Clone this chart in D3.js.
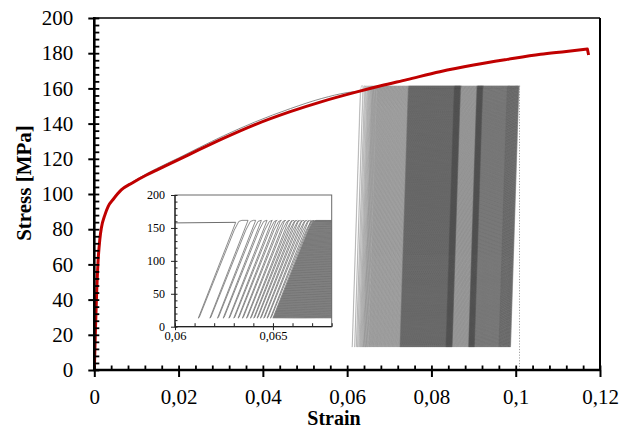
<!DOCTYPE html>
<html><head><meta charset="utf-8">
<script src="https://cdn.jsdelivr.net/npm/d3@7"></script>
<style>
html,body{margin:0;padding:0;background:#fff;}
svg{display:block;}
</style></head><body>
<svg id="chart" width="630" height="430"></svg>
<script>
// ---------------- DATA ----------------
// Monotonic tensile test (red)
const redStrain = [0, 0.0001, 0.0003, 0.0005, 0.0009, 0.0013, 0.0017, 0.0025, 0.0033, 0.0045, 0.0064, 0.009, 0.0124, 0.0148, 0.02, 0.025, 0.0306, 0.038, 0.0465, 0.054, 0.0623, 0.068, 0.0742, 0.082, 0.09, 0.098, 0.1059, 0.112, 0.117, 0.1173];
const redStress = [0, 8, 25, 40, 62, 74, 81, 88, 93, 97, 102.3, 106.3, 110.8, 113.6, 119.5, 125.3, 131.6, 139.3, 146.8, 152.5, 158, 161.5, 165, 169.5, 173.3, 176.5, 179.4, 181, 182.4, 179];
// Cyclic test: monotonic loading part (grey)
const cyclicStrain = [0, 0.0001, 0.0003, 0.0005, 0.0009, 0.0013, 0.0017, 0.0025, 0.0033, 0.0045, 0.0064, 0.009, 0.0124, 0.0148, 0.02, 0.025, 0.0306, 0.038, 0.0465, 0.054, 0.06, 0.0631];
const cyclicStress = [0, 8, 25, 40, 62, 74, 81, 88, 93, 97, 102.5, 106.8, 111.5, 114.5, 120.5, 126.5, 133, 140.8, 148.5, 154.3, 157.6, 158.5];
// Cyclic test: strain at the minimum of each early (resolvable) cycle
const cycleMinSparse = [0.06119, 0.06178, 0.06217, 0.06246, 0.06275, 0.06300, 0.06322, 0.06344, 0.06365, 0.06385, 0.06402, 0.06419, 0.06436, 0.06453, 0.06470, 0.06487];
// Cyclic test: dense cycles, read as bands of cycle density (strain at cycle minimum)
const cycleBandStart = [0.0650, 0.0725, 0.0834, 0.0849, 0.0888, 0.0902, 0.0960];
const cycleBandEnd   = [0.0725, 0.0834, 0.0849, 0.0888, 0.0902, 0.0960, 0.0988];
const cycleBandStep  = [0.00005, 0.000025, 0.000018, 0.000045, 0.000018, 0.00003, 0.000026];
const cycleMinStress = 13;
const cycleMaxStress = 161.5;
const cycleElasticStrain = 0.00195;
const cycleLoopWidth = 0.00008;
const fractureStrain = [0.1009, 0.1009];
const fractureStress = [161.5, 0];
// Ticks
const xTicks = [0, 0.02, 0.04, 0.06, 0.08, 0.1, 0.12];
const xTickLabels = ["0", "0,02", "0,04", "0,06", "0,08", "0,1", "0,12"];
const yTicks = [0, 20, 40, 60, 80, 100, 120, 140, 160, 180, 200];
const insetXTicks = [0.06, 0.065];
const insetXTickLabels = ["0,06", "0,065"];
const insetYTicks = [0, 50, 100, 150, 200];
const xLabel = "Strain";
const yLabel = "Stress [MPa]";

// ---------------- CHART ----------------
const SERIF = "Liberation Serif";
const svg = d3.select("#chart");
const M = {l: 94.3, r: 600, t: 18, b: 370};
const x = d3.scaleLinear().domain([0, 0.12]).range([M.l, M.r]);
const y = d3.scaleLinear().domain([0, 200]).range([M.b, M.t]);

const I = {l: 175, r: 331.7, t: 195, b: 326.7};
const xi = d3.scaleLinear().domain([0.06, 0.068]).range([I.l, I.r]);
const yi = d3.scaleLinear().domain([0, 200]).range([I.b, I.t]);

// cycles
const cycles = cycleMinSparse.slice();
cycleBandStart.forEach((s, i) => {
  for (let m = s; m < cycleBandEnd[i] - 1e-9; m += cycleBandStep[i]) cycles.push(m);
});
function cyclePoints(i) {
  const m = cycles[i], DE = cycleElasticStrain, LW = cycleLoopWidth;
  const TOP = cycleMaxStress, MIN = cycleMinStress;
  const start = i === 0 ? [cyclicStrain[cyclicStrain.length - 1], cyclicStress[cyclicStress.length - 1]] : [m + DE, TOP];
  const pts = [start, [m, MIN], [m + LW * 0.6, MIN + 1.2],
    [m + LW + DE * 0.9, MIN + (TOP - MIN) * 0.9],
    [m + LW + DE * 1.02, TOP - 1.6], [m + LW + DE * 1.1, TOP]];
  const next = i < cycles.length - 1 ? cycles[i + 1] + DE : fractureStrain[0];
  if (next > m + LW + DE * 1.1) pts.push([next, TOP]);
  return pts;
}

const defs = svg.append("defs");
defs.append("clipPath").attr("id", "clipMain").append("rect")
  .attr("x", M.l).attr("y", M.t).attr("width", M.r - M.l).attr("height", M.b - M.t);
defs.append("clipPath").attr("id", "clipInset").append("rect")
  .attr("x", I.l).attr("y", I.t).attr("width", I.r - I.l).attr("height", I.b - I.t);

const gMain = svg.append("g").attr("clip-path", "url(#clipMain)");
const lineMain = d3.line().x(d => x(d[0])).y(d => y(d[1]));
const smoothMain = d3.line().x(d => x(d[0])).y(d => y(d[1])).curve(d3.curveMonotoneX);

// cyclic curves (main)
const gCyc = gMain.append("g");
cycles.forEach((m, i) => {
  gCyc.append("path").attr("d", lineMain(cyclePoints(i)))
    .attr("fill", "none").attr("stroke", "#404040").attr("stroke-width", 0.5)
    .attr("stroke-opacity", i < cycleMinSparse.length ? 0.45 : 0.14);
});
gMain.append("path")
  .attr("d", lineMain(fractureStrain.map((s, i) => [s, fractureStress[i]])))
  .attr("fill", "none").attr("stroke", "#a0a0a0").attr("stroke-width", 1)
  .attr("stroke-dasharray", "1.2,1.6");
gMain.append("path")
  .attr("d", smoothMain(cyclicStrain.map((s, i) => [s, cyclicStress[i]])))
  .attr("fill", "none").attr("stroke", "#8a8a8a").attr("stroke-width", 1);
// monotonic red (smooth, with the final drop as a straight segment)
const redPts = redStrain.map((s, i) => [s, redStress[i]]);
gMain.append("path")
  .attr("d", smoothMain(redPts.slice(0, -1)) + "L" + x(redPts[redPts.length - 1][0]) + "," + y(redPts[redPts.length - 1][1]))
  .attr("fill", "none").attr("stroke", "#c00000").attr("stroke-width", 3)
  .attr("stroke-linejoin", "round").attr("stroke-linecap", "butt");

// frame top/right
svg.append("line").attr("x1", M.l).attr("x2", M.r).attr("y1", M.t).attr("y2", M.t)
  .attr("stroke", "#000").attr("stroke-width", 1.5);
svg.append("line").attr("x1", M.r).attr("x2", M.r).attr("y1", M.t).attr("y2", M.b)
  .attr("stroke", "#000").attr("stroke-width", 2);

// minor ticks
const yMinor = d3.range(0, 200.001, 4);
const xMinor = d3.range(0, 0.12001, 0.004);

function styleText(sel, size, weight) {
  sel.attr("font-family", SERIF).attr("font-size", size).attr("font-weight", weight || "normal")
    .attr("fill", "#000");
}

// y axis
const gy = svg.append("g").attr("transform", `translate(${M.l},0)`);
gy.call(d3.axisLeft(y).tickValues(yTicks).tickSize(6).tickSizeOuter(0).tickPadding(15));
gy.attr("font-family", SERIF).attr("font-size", 21);
gy.select(".domain").remove();
gy.selectAll(".tick line").attr("stroke-width", 2);
styleText(gy.selectAll(".tick text"), 21);
const gyIn = svg.append("g").attr("transform", `translate(${M.l},0)`);
gyIn.call(d3.axisRight(y).tickValues(yMinor).tickSize(5).tickSizeOuter(0).tickFormat(""));
gyIn.select(".domain").remove();
gyIn.selectAll(".tick line").attr("stroke-width", 1.8);
svg.append("line").attr("x1", M.l).attr("x2", M.l).attr("y1", M.t - 1).attr("y2", M.b + 1)
  .attr("stroke", "#000").attr("stroke-width", 2.6);

// x axis
const gx = svg.append("g").attr("transform", `translate(0,${M.b})`);
gx.call(d3.axisBottom(x).tickValues(xTicks).tickSize(7).tickSizeOuter(0)
  .tickFormat((d, i) => xTickLabels[i]));
gx.attr("font-family", SERIF).attr("font-size", 21);
gx.select(".domain").remove();
gx.selectAll(".tick line").attr("stroke-width", 2);
gx.selectAll(".tick text").attr("dy", null).attr("y", 34);
styleText(gx.selectAll(".tick text"), 21);
const gxIn = svg.append("g").attr("transform", `translate(0,${M.b})`);
gxIn.call(d3.axisTop(x).tickValues(xMinor).tickSize(4.5).tickSizeOuter(0).tickFormat(""));
gxIn.select(".domain").remove();
gxIn.selectAll(".tick line").attr("stroke-width", 1.8);
svg.append("line").attr("x1", M.l - 1).attr("x2", M.r + 1).attr("y1", M.b).attr("y2", M.b)
  .attr("stroke", "#000").attr("stroke-width", 2.6);

// axis titles
styleText(svg.append("text").attr("x", 334).attr("y", 425).attr("text-anchor", "middle").text(xLabel), 20, "bold");
styleText(svg.append("text").attr("transform", "translate(31,183) rotate(-90)").attr("text-anchor", "middle").text(yLabel), 21, "bold");

// ---------------- INSET ----------------
const gI = svg.append("g");
gI.append("rect").attr("x", I.l).attr("y", I.t).attr("width", I.r - I.l).attr("height", I.b - I.t)
  .attr("fill", "#fff");
const gIc = gI.append("g").attr("clip-path", "url(#clipInset)");
const lineI = d3.line().x(d => xi(d[0])).y(d => yi(d[1]));
gIc.append("path").attr("d", lineI(cyclicStrain.map((s, i) => [s, cyclicStress[i]])))
  .attr("fill", "none").attr("stroke", "#6e6e6e").attr("stroke-width", 1);
cycles.forEach((m, i) => {
  if (m > 0.0683) return;
  gIc.append("path").attr("d", lineI(cyclePoints(i)))
    .attr("fill", "none").attr("stroke", "#707070").attr("stroke-width", 0.8);
});
gI.append("rect").attr("x", I.l).attr("y", I.t).attr("width", I.r - I.l).attr("height", I.b - I.t)
  .attr("fill", "none").attr("stroke", "#6a6a6a").attr("stroke-width", 1);

const iyMinor = d3.range(0, 200.001, 10);
const ixMinor = d3.range(0.06, 0.06801, 0.001);
const giy = gI.append("g").attr("transform", `translate(${I.l},0)`);
giy.call(d3.axisLeft(yi).tickValues(insetYTicks).tickSize(4).tickSizeOuter(0).tickPadding(6));
giy.attr("font-family", SERIF).attr("font-size", 12);
giy.select(".domain").remove();
giy.selectAll(".tick line").attr("stroke", "#222").attr("stroke-width", 1);
styleText(giy.selectAll(".tick text"), 12);
const giyIn = gI.append("g").attr("transform", `translate(${I.l},0)`);
giyIn.call(d3.axisRight(yi).tickValues(iyMinor).tickSize(2.5).tickSizeOuter(0).tickFormat(""));
giyIn.select(".domain").remove();
giyIn.selectAll(".tick line").attr("stroke", "#222").attr("stroke-width", 1);

const gix = gI.append("g").attr("transform", `translate(0,${I.b})`);
gix.call(d3.axisBottom(xi).tickValues(insetXTicks).tickSize(3.5).tickSizeOuter(0)
  .tickFormat((d, i) => insetXTickLabels[i]));
gix.attr("font-family", SERIF).attr("font-size", 12.5);
gix.select(".domain").remove();
gix.selectAll(".tick line").attr("stroke", "#222").attr("stroke-width", 1);
gix.selectAll(".tick text").attr("dy", null).attr("y", 13);
styleText(gix.selectAll(".tick text"), 12.5);
const gixIn = gI.append("g").attr("transform", `translate(0,${I.b})`);
gixIn.call(d3.axisTop(xi).tickValues(ixMinor).tickSize(3.5).tickSizeOuter(0).tickFormat(""));
gixIn.select(".domain").remove();
gixIn.selectAll(".tick line").attr("stroke", "#222").attr("stroke-width", 1);

gI.append("line").attr("x1", I.l).attr("x2", I.l).attr("y1", I.t).attr("y2", I.b + 0.5)
  .attr("stroke", "#222").attr("stroke-width", 1.3);
gI.append("line").attr("x1", I.l).attr("x2", I.r).attr("y1", I.b).attr("y2", I.b)
  .attr("stroke", "#222").attr("stroke-width", 1.3);
</script>
</body></html>
